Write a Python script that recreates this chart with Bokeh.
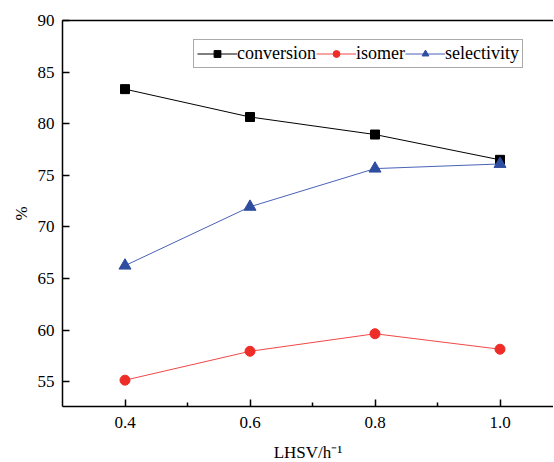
from bokeh.plotting import figure
from bokeh.models import Range1d, LinearAxis, Legend, LegendItem, FixedTicker, NumeralTickFormatter
from bokeh.embed import file_html
from bokeh.resources import INLINE

lhsv = [0.4, 0.6, 0.8, 1.0]
conversion = [83.35, 80.65, 78.95, 76.5]
isomer = [55.15, 57.95, 59.65, 58.15]
selectivity = [66.25, 71.95, 75.65, 76.1]

x_ticks = [0.4, 0.6, 0.8, 1.0]
x_minor = [0.5, 0.7, 0.9]
y_ticks = [55, 60, 65, 70, 75, 80, 85, 90]

FONT = "Liberation Serif"

p = figure(output_backend="svg", toolbar_location=None,
           frame_width=491, frame_height=386,
           min_border_left=62, min_border_right=0, min_border_top=20, min_border_bottom=48,
           x_range=Range1d(0.3, 1.0856), y_range=Range1d(52.6, 90))
p.outline_line_color = None
p.xgrid.visible = False
p.ygrid.visible = False
p.background_fill_color = "white"
p.border_fill_color = "white"

for ax in (p.xaxis[0], p.yaxis[0]):
    ax.axis_line_color = "black"
    ax.axis_line_width = 1.5
    ax.major_tick_line_color = "black"
    ax.major_tick_line_width = 1.5
    ax.major_tick_in = 7
    ax.major_tick_out = 0
    ax.minor_tick_in = 4
    ax.minor_tick_out = 0
    ax.minor_tick_line_color = "black"
    ax.minor_tick_line_width = 1.5
    ax.major_label_text_font = FONT
    ax.major_label_text_font_size = "17px"
    ax.major_label_text_color = "black"
    ax.axis_label_text_font = FONT
    ax.axis_label_text_font_size = "17px"
    ax.axis_label_text_font_style = "normal"
    ax.axis_label_text_color = "black"

p.xaxis[0].ticker = FixedTicker(ticks=x_ticks, minor_ticks=x_minor)
p.xaxis[0].formatter = NumeralTickFormatter(format="0.0")
p.yaxis[0].ticker = FixedTicker(ticks=y_ticks)
p.yaxis[0].minor_tick_line_color = None
p.xaxis[0].axis_label = "LHSV/h\u207b\u00b9"
p.yaxis[0].axis_label = "%"
p.xaxis[0].major_label_standoff = 10
p.xaxis[0].axis_label_standoff = 12
p.yaxis[0].major_label_standoff = 8
p.yaxis[0].axis_label_standoff = 4

top = LinearAxis(axis_line_color="black", axis_line_width=1.5,
                 ticker=FixedTicker(ticks=[], minor_ticks=[]),
                 major_tick_line_color=None, minor_tick_line_color=None,
                 major_label_standoff=0)
p.add_layout(top, "above")

c_line = p.line(lhsv, conversion, line_color="black", line_width=1)
c_pts = p.scatter(lhsv, conversion, marker="square", size=9, fill_color="black", line_color="black")
i_line = p.line(lhsv, isomer, line_color="#f04848", line_width=1)
i_pts = p.scatter(lhsv, isomer, marker="circle", size=10, fill_color="#ee2c28", line_color="#ee2c28")
s_line = p.line(lhsv, selectivity, line_color="#4a62b8", line_width=1)
s_pts = p.scatter(lhsv, selectivity, marker="triangle", size=12, fill_color="#2f4da0", line_color="#2f4da0")

legend = Legend(items=[
    LegendItem(label="conversion", renderers=[c_line, c_pts]),
    LegendItem(label="isomer", renderers=[i_line, i_pts]),
    LegendItem(label="selectivity", renderers=[s_line, s_pts]),
], orientation="horizontal", location=(131, 338))
legend.glyph_width = 40
legend.glyph_height = 17
legend.label_standoff = 0
legend.spacing = 0
legend.padding = 3
legend.margin = 0
legend.label_text_font = FONT
legend.label_text_font_size = "18px"
legend.label_text_color = "black"
legend.label_height = 17
legend.border_line_color = "#555555"
legend.border_line_width = 1
legend.background_fill_alpha = 1
p.add_layout(legend, "center")

open("out.html", "w").write(file_html(p, INLINE))
